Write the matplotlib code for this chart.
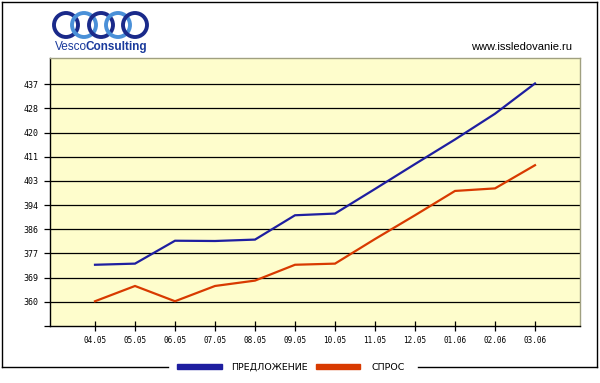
import numpy as np
import matplotlib.pyplot as plt
from matplotlib.patches import Circle, Rectangle
from matplotlib.lines import Line2D

months = ["04.05", "05.05", "06.05", "07.05", "08.05", "09.05",
          "10.05", "11.05", "12.05", "01.06", "02.06", "03.06"]
supply = [373.1, 373.5, 381.6, 381.5, 382.0, 390.6,
          391.2, 399.9, 408.7, 417.4, 426.5, 437.2]
demand = [360.2, 365.6, 360.2, 365.6, 367.5, 373.1,
          373.5, 382.2, 390.6, 399.2, 400.1, 408.3]
ytick_vals = [351.45, 360, 368.55, 377.1, 385.65, 394.2, 402.75, 411.3, 419.85, 428.4, 436.95]
ytick_labels = ["", "360", "369", "377", "386", "394", "403", "411", "420", "428", "437"]

blue = "#1e1ea0"
red = "#d83a00"

fig = plt.figure(figsize=(6, 3.83), dpi=100)
fig.patch.set_facecolor("white")

ax = fig.add_axes([50 / 600, 1 - 326 / 383, 530 / 600, (326 - 58) / 383])
ax.set_facecolor("#fefdcc")
x = np.arange(len(months))
ax.plot(x, supply, color=blue, lw=1.6, solid_joinstyle="miter")
ax.plot(x, demand, color=red, lw=1.6, solid_joinstyle="miter")

ax.set_xlim(-1.125, 12.125)
ax.set_ylim(351.45, 446.2)
ax.set_xticks(x)
ax.set_xticklabels(months, family="DejaVu Sans Mono", fontsize=5.5)
ax.set_yticks(ytick_vals)
ax.set_yticklabels(ytick_labels, family="DejaVu Sans Mono", fontsize=6)
for v in ytick_vals[1:]:
    ax.axhline(v, color="black", lw=0.9, zorder=1)
ax.tick_params(axis="x", direction="inout", length=7, width=0.9, pad=4)
ax.tick_params(axis="y", direction="out", length=4, width=0.9, pad=4)
for side in ["left", "bottom"]:
    ax.spines[side].set_color("black")
    ax.spines[side].set_linewidth(1.0)
for side in ["top", "right"]:
    ax.spines[side].set_color("#a0a080")
    ax.spines[side].set_linewidth(1.0)

# outer frame with legend in the bottom edge
W, H = 600, 383
def fx(px):
    return px / W
def fy(py):
    return 1 - py / H
frame_kw = dict(color="black", lw=1.0, transform=fig.transFigure)
fig.add_artist(Line2D([fx(2), fx(597)], [fy(2), fy(2)], **frame_kw))
fig.add_artist(Line2D([fx(2), fx(2)], [fy(2), fy(367)], **frame_kw))
fig.add_artist(Line2D([fx(597), fx(597)], [fy(2), fy(367)], **frame_kw))
fig.add_artist(Line2D([fx(2), fx(168)], [fy(367), fy(367)], **frame_kw))
fig.add_artist(Line2D([fx(418), fx(597)], [fy(367), fy(367)], **frame_kw))
fig.add_artist(Rectangle((fx(177), fy(369)), (222 - 177) / W, 5 / H,
                         color=blue, transform=fig.transFigure))
fig.text(fx(231), fy(367), "ПРЕДЛОЖЕНИЕ", fontsize=6.8, va="center", ha="left")
fig.add_artist(Rectangle((fx(316), fy(369)), (360 - 316) / W, 5 / H,
                         color=red, transform=fig.transFigure))
fig.text(fx(372), fy(367), "СПРОС", fontsize=6.8, va="center", ha="left")

fig.text(fx(572), fy(47), "www.issledovanie.ru", fontsize=8, ha="right",
         va="center", family="Liberation Sans")

# logo
logo_ax = fig.add_axes([0, 0, 1, 1], facecolor="none")
logo_ax.set_xlim(0, W)
logo_ax.set_ylim(H, 0)
logo_ax.axis("off")
rings = [(66, "#1a2a8a"), (84, "#4a90d8"), (101, "#1a2a8a"), (118, "#4a90d8"), (135, "#1a2a8a")]
for cx, c in rings:
    logo_ax.add_patch(Circle((cx, 25), 12, fill=False, ec=c, lw=2.8))
logo_ax.text(55, 47, "Vesco", fontsize=8.5, color="#1a3a9c", va="center",
             ha="left", family="Liberation Sans")
logo_ax.text(85, 47, "Consulting", fontsize=8.5, color="#1a3a9c", va="center",
             ha="left", family="Liberation Sans", weight="bold")

fig.savefig("out.png", dpi=100)
